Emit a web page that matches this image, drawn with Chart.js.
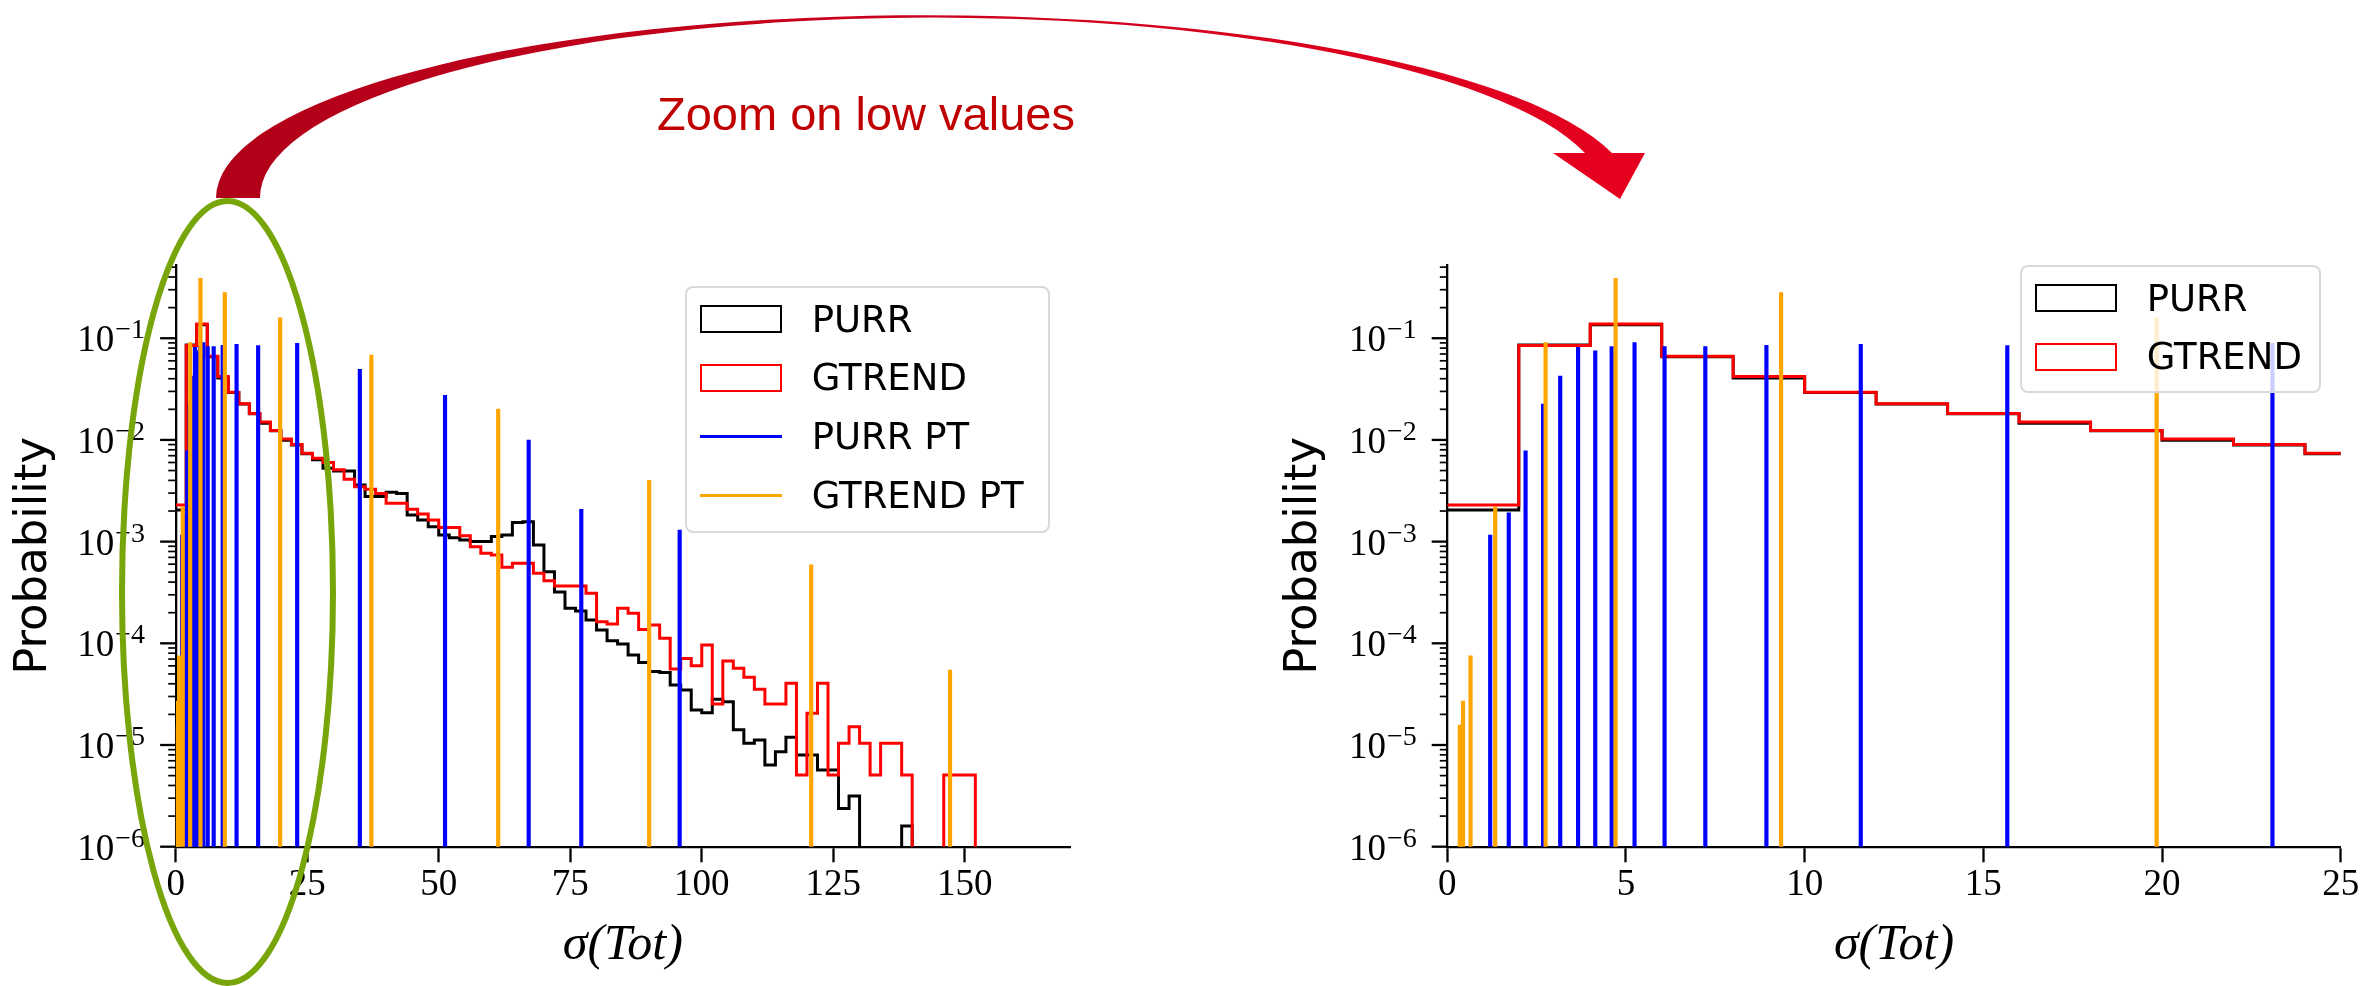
<html>
<head>
  <meta charset="utf-8">
  <title>σ(Tot) distributions</title>
  <script src="https://cdn.jsdelivr.net/npm/chart.js"></script>
  <style>
    body { margin: 0; background: #fff; width: 2361px; height: 986px; position: relative; overflow: hidden; }
    canvas { position: absolute; }
    #leftChart { left: 0; top: 200px; }
    #rightChart { left: 1270px; top: 200px; }
    .legend {
      position: absolute; box-sizing: border-box; background: rgba(255,255,255,0.8);
      border: 2px solid #d9d9d9; border-radius: 8px;
      font-family: "DejaVu Sans"; font-size: 37px; color: #000;
    }
    #leftLegend { left: 685px; top: 286px; width: 365px; height: 247px; }
    #rightLegend { left: 2020px; top: 265px; width: 301px; height: 128px; }
    .legend .row { position: absolute; left: 13px; height: 50px; display: flex; align-items: center; white-space: nowrap; }
    .legend .swatch { width: 82px; box-sizing: border-box; margin-right: 29.7px; flex: none; }
    .legend .box { height: 28px; border: 2.7px solid; }
    .legend .line { height: 3.4px; }
    #overlay { position: absolute; left: 0; top: 0; pointer-events: none; }
    #zoomNote {
      position: absolute; left: 657px; top: 89.7px; font-family: "Liberation Sans"; font-size: 47px;
      line-height: 47px; color: #c00000; white-space: nowrap;
    }
  </style>
</head>
<body>
  <canvas id="leftChart" width="1110" height="786"></canvas>
  <canvas id="rightChart" width="1091" height="786"></canvas>
  <div id="leftLegend" class="legend"></div>
  <div id="rightLegend" class="legend"></div>

  <svg id="overlay" width="2361" height="986">
    <defs>
      <linearGradient id="arrowFill" gradientUnits="userSpaceOnUse" x1="216" y1="0" x2="1645" y2="0">
        <stop offset="0" stop-color="#b10019"/>
        <stop offset="1" stop-color="#e6001f"/>
      </linearGradient>
    </defs>
    <path d="M216 198 A709 183 0 0 1 1612 153 L1585 153 A673 180 0 0 0 260 198 Z" fill="url(#arrowFill)"/>
    <polygon points="1553,153 1645,153 1620,199" fill="#e6001f"/>
    <ellipse cx="227.5" cy="592" rx="105.5" ry="391" fill="none" stroke="#78a50a" stroke-width="6"/>
  </svg>
  <div id="zoomNote">Zoom on low values</div>

  <script>
// histogram bins are 2 wide starting at 0; empty bins are 0
const BIN_WIDTH = 2;
const FLOOR = 1e-9;   // below the axis, so empty bins get clipped away
const Y_MIN = 1e-6;
const Y_MAX = 0.525;

const purrHist = [
  0.00205, 0.0857, 0.136, 0.0657, 0.0407, 0.0292, 0.0226, 0.0181, 0.0146, 0.0123,
  0.0099, 0.0089, 0.0073, 0.0064, 0.00526, 0.00494, 0.00494, 0.00361, 0.00277, 0.00277,
  0.00305, 0.00298, 0.00183, 0.00163, 0.00140, 0.00116, 0.00109, 0.00104, 0.00100, 0.00100,
  0.00112, 0.00116, 0.00154, 0.00157, 0.000925, 0.000506, 0.00032, 0.000221, 0.000208, 0.000170,
  0.000135, 0.000106, 0.0000985, 0.0000768, 0.0000646, 0.0000527, 0.0000515, 0.0000389, 0.0000348, 0.0000221,
  0.0000208, 0.0000282, 0.0000267, 0.0000141, 0.0000104, 0.0000112, 0.00000635, 0.00000859, 0.0000119, 0.00000796,
  0.00000796, 0.00000567, 0.00000567, 0.00000238, 0.00000315, 0, 0, 0, 0, 0.0000016
];

const gtrendHist = [
  0.00229, 0.0848, 0.138, 0.0665, 0.0420, 0.0294, 0.0227, 0.0182, 0.0150, 0.0124,
  0.0102, 0.0090, 0.0074, 0.0066, 0.0060, 0.0051, 0.0041, 0.00347, 0.00327, 0.00298,
  0.00238, 0.00238, 0.00208, 0.00187, 0.00163, 0.00138, 0.00138, 0.00114, 0.00089, 0.000767,
  0.000738, 0.000559, 0.000612, 0.000612, 0.000488, 0.000413, 0.000366, 0.000366, 0.000366, 0.000310,
  0.000163, 0.000155, 0.000221, 0.000197, 0.000137, 0.000151, 0.000112, 0.0000558, 0.0000711, 0.0000602,
  0.0000962, 0.0000253, 0.0000670, 0.0000567, 0.0000463, 0.0000353, 0.0000253, 0.0000253, 0.0000404, 0.00000507,
  0.0000205, 0.0000404, 0.00000507, 0.0000104, 0.0000151, 0.0000104, 0.00000507, 0.0000104, 0.0000104, 0.00000507,
  0, 0, 0, 0.00000507, 0.00000507, 0.00000507
];

const purrPtX = [1.20, 1.72, 2.19, 2.68, 3.16, 3.66, 4.14, 4.60, 5.24, 6.08, 7.22, 8.93, 11.57, 15.67, 23.09, 35.0, 51.2, 67.1, 77.1, 95.8];
const purrPtY = [0.00116, 0.00192, 0.00783, 0.0225, 0.0425, 0.0814, 0.0754, 0.0826, 0.0904, 0.0826, 0.0826, 0.0851, 0.0873, 0.0847, 0.089, 0.0494, 0.0274, 0.00997, 0.00208, 0.0013];

const gtrendPtX = [0.35, 0.44, 0.65, 1.34, 2.75, 4.71, 9.34, 19.85, 37.2, 61.3, 90.0, 120.8, 147.2];
const gtrendPtY = [0.0000157, 0.0000271, 0.0000755, 0.0022, 0.0904, 0.388, 0.281, 0.159, 0.0684, 0.0201, 0.004, 0.00059, 0.0000546];

const leftXTicks = [0, 25, 50, 75, 100, 125, 150];
const rightXTicks = [0, 5, 10, 15, 20, 25];
const yTickExponents = [-6, -5, -4, -3, -2, -1];

const seriesNames = ['PURR', 'GTREND', 'PURR PT', 'GTREND PT'];
const seriesColors = ['#000000', '#ff0000', '#0000ff', '#ffa500'];

function stepPoints(values) {
  const pts = values.map((v, i) => ({ x: i * BIN_WIDTH, y: v > 0 ? v : FLOOR }));
  pts.push({ x: values.length * BIN_WIDTH, y: FLOOR });
  return pts;
}

function spikes(xs, ys) {
  return xs.map((x, i) => ({ x: x, y: [Y_MIN, ys[i]] }));
}

function makeDatasets() {
  return [
    { type: 'line', label: seriesNames[0], data: stepPoints(purrHist), borderColor: seriesColors[0],
      borderWidth: 3, stepped: true, pointRadius: 0, fill: false, order: 4 },
    { type: 'line', label: seriesNames[1], data: stepPoints(gtrendHist), borderColor: seriesColors[1],
      borderWidth: 3, stepped: true, pointRadius: 0, fill: false, order: 3 },
    { type: 'bar', label: seriesNames[2], data: spikes(purrPtX, purrPtY), backgroundColor: seriesColors[2],
      borderWidth: 0, barThickness: 3.5, grouped: false, order: 2 },
    { type: 'bar', label: seriesNames[3], data: spikes(gtrendPtX, gtrendPtY), backgroundColor: seriesColors[3],
      borderWidth: 0, barThickness: 3.5, grouped: false, order: 1 }
  ];
}

// log axis: major/minor tick marks and 10^n labels
const logAxisDecor = {
  id: 'logAxisDecor',
  afterDraw(chart) {
    const y = chart.scales.y;
    const ctx = chart.ctx;
    const x0 = chart.chartArea.left;
    ctx.save();
    ctx.strokeStyle = '#000';
    for (let e = -6; e <= 0; e++) {
      for (let m = 1; m <= 9; m++) {
        const v = m * Math.pow(10, e);
        if (v < Y_MIN * 0.999 || v > Y_MAX) continue;
        const py = y.getPixelForValue(v);
        const major = m === 1;
        ctx.lineWidth = major ? 2.3 : 1.7;
        ctx.beginPath();
        ctx.moveTo(x0 - (major ? 15.6 : 7.5), py);
        ctx.lineTo(x0, py);
        ctx.stroke();
      }
    }
    ctx.fillStyle = '#000';
    ctx.textAlign = 'left';
    ctx.textBaseline = 'alphabetic';
    const right = x0 - 30.6;
    yTickExponents.forEach(e => {
      const py = y.getPixelForValue(Math.pow(10, e));
      const expText = '\u2212' + (-e);
      ctx.font = '28px "Liberation Serif"';
      const ew = ctx.measureText(expText).width;
      ctx.fillText(expText, right - ew, py);
      ctx.font = '37px "Liberation Serif"';
      const bw = ctx.measureText('10').width;
      ctx.fillText('10', right - ew - bw - 1, py + 13);
    });
    ctx.restore();
  }
};

function makeChart(id, xMax, xTicks, yAxisWidth, padRight) {
  const ctx = document.getElementById(id).getContext('2d');
  return new Chart(ctx, {
    type: 'line',
    data: { datasets: makeDatasets() },
    options: {
      responsive: false,
      animation: false,
      devicePixelRatio: 1,
      layout: { padding: { top: 65, right: padRight, left: 0, bottom: 0 } },
      plugins: { legend: { display: false }, tooltip: { enabled: false } },
      scales: {
        x: {
          type: 'linear', min: 0, max: xMax, offset: false,
          afterBuildTicks: s => { s.ticks = xTicks.map(v => ({ value: v })); },
          afterFit: s => { s.height = 139.3; },
          ticks: { color: '#000', font: { family: 'Liberation Serif', size: 37 }, padding: 1, maxRotation: 0, autoSkip: false },
          grid: { display: true, offset: false, drawOnChartArea: false, drawTicks: true, tickLength: 15.6, tickWidth: 2.3, tickColor: '#000' },
          border: { display: true, color: '#000', width: 2.3 },
          title: { display: true, text: 'σ(Tot)', color: '#000',
                   font: { family: 'Liberation Serif', size: 50, style: 'italic' }, padding: { top: 0, bottom: 10 } }
        },
        y: {
          type: 'logarithmic', min: Y_MIN, max: Y_MAX,
          afterFit: s => { s.width = yAxisWidth; },
          ticks: { display: false },
          grid: { display: false },
          border: { display: true, color: '#000', width: 2.3 },
          title: { display: true, text: 'Probability', color: '#000',
                   font: { family: 'DejaVu Sans', size: 45 }, padding: { top: 7, bottom: 0 } }
        }
      }
    },
    plugins: [logAxisDecor]
  });
}

function buildLegend(el, count) {
  for (let i = 0; i < count; i++) {
    const row = document.createElement('div');
    row.className = 'row';
    row.style.top = (31 + i * 58.8 - 25) + 'px';
    const sw = document.createElement('span');
    if (i < 2) {
      sw.className = 'swatch box';
      sw.style.borderColor = seriesColors[i];
    } else {
      sw.className = 'swatch line';
      sw.style.background = seriesColors[i];
    }
    const label = document.createElement('span');
    label.textContent = seriesNames[i];
    row.appendChild(sw);
    row.appendChild(label);
    el.appendChild(row);
  }
}

makeChart('leftChart', 170, leftXTicks, 175.7, 40);
makeChart('rightChart', 25, rightXTicks, 177.3, 20.3);
buildLegend(document.getElementById('leftLegend'), 4);
buildLegend(document.getElementById('rightLegend'), 2);
  </script>
</body>
</html>
